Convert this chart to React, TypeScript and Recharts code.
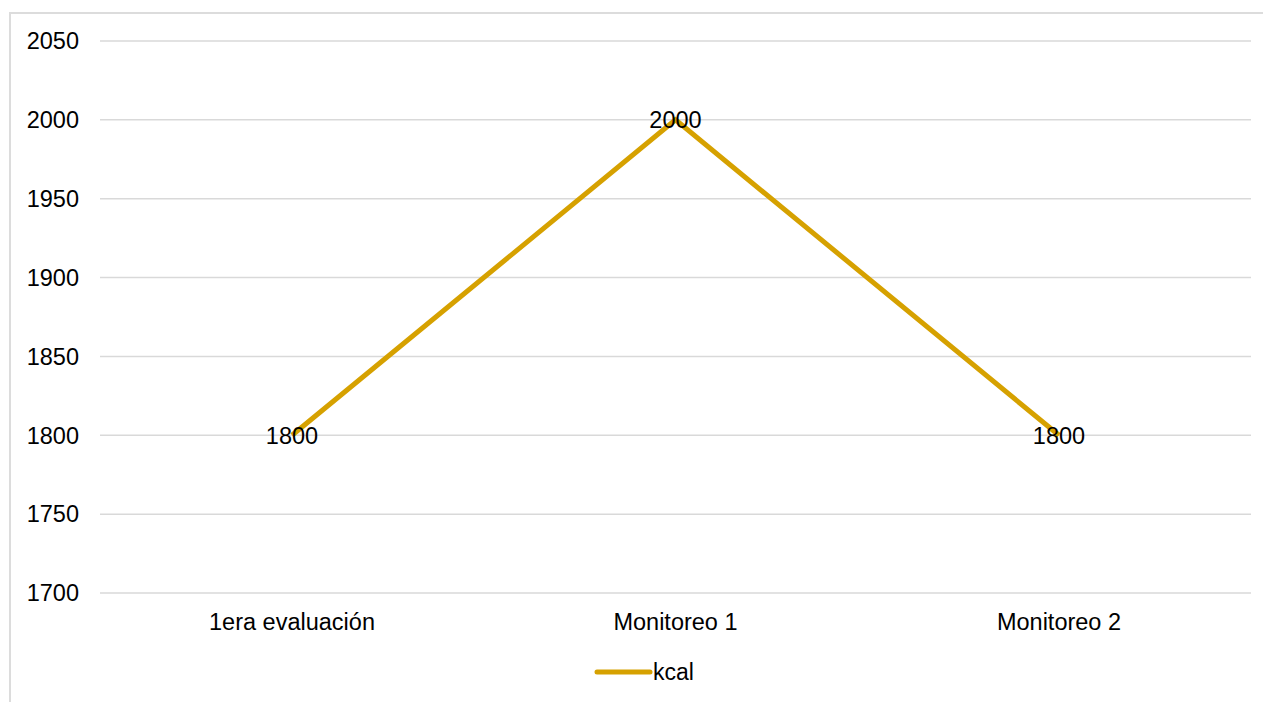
import React from 'react';
import { LineChart, Line, XAxis, YAxis, CartesianGrid, Legend, LabelList } from 'recharts';

const categories = ['1era evaluación', 'Monitoreo 1', 'Monitoreo 2'];
const kcalValues = [1800, 2000, 1800];
const yTicks = [1700, 1750, 1800, 1850, 1900, 1950, 2000, 2050];

const data = categories.map((c, i) => ({ name: c, kcal: kcalValues[i] }));

const FONT = '"Liberation Sans", Arial, sans-serif';
const LINE_COLOR = '#D6A100';

const LegendContent = () => (
  <div style={{ display: 'flex', alignItems: 'center', height: 26, fontFamily: FONT }}>
    <svg width={60} height={26}>
      <line x1={3} y1={13} x2={56} y2={13} stroke={LINE_COLOR} strokeWidth={5} strokeLinecap="round" />
    </svg>
    <span style={{ fontSize: 23, color: '#000', marginLeft: -1 }}>kcal</span>
  </div>
);

export default function App() {
  return (
    <div
      style={{
        marginLeft: 1,
        marginTop: 4,
        width: 1300,
        height: 720,
        borderTop: '2px solid #dcdcdc',
        borderLeft: '2px solid #dcdcdc',
        position: 'relative',
        background: '#fff',
      }}
    >
      <LineChart
        width={1260}
        height={688}
        data={data}
        margin={{ top: 27, right: 20, left: 20, bottom: 0 }}
      >
        <CartesianGrid vertical={false} stroke="#d9d9d9" strokeWidth={1.5} />
        <XAxis
          dataKey="name"
          axisLine={false}
          tickLine={false}
          tickSize={0}
          tickMargin={20}
          height={83}
          padding={{ left: 192, right: 192 }}
          interval={0}
          tick={{ fontSize: 23.5, fill: '#000', fontFamily: FONT }}
        />
        <YAxis
          domain={[1700, 2050]}
          ticks={yTicks}
          interval={0}
          axisLine={false}
          tickLine={false}
          tickSize={0}
          tickMargin={21}
          width={69}
          tick={{ fontSize: 23.5, fill: '#000', fontFamily: FONT }}
        />
        <Legend
          content={<LegendContent />}
          wrapperStyle={{ position: 'absolute', top: 645, left: 583, width: 'auto' }}
        />
        <Line
          type="linear"
          dataKey="kcal"
          stroke={LINE_COLOR}
          strokeWidth={5}
          dot={false}
          activeDot={false}
          isAnimationActive={false}
        >
          <LabelList
            dataKey="kcal"
            position="center"
            style={{ fontSize: 23.5, fill: '#000', fontFamily: FONT }}
          />
        </Line>
      </LineChart>
    </div>
  );
}
